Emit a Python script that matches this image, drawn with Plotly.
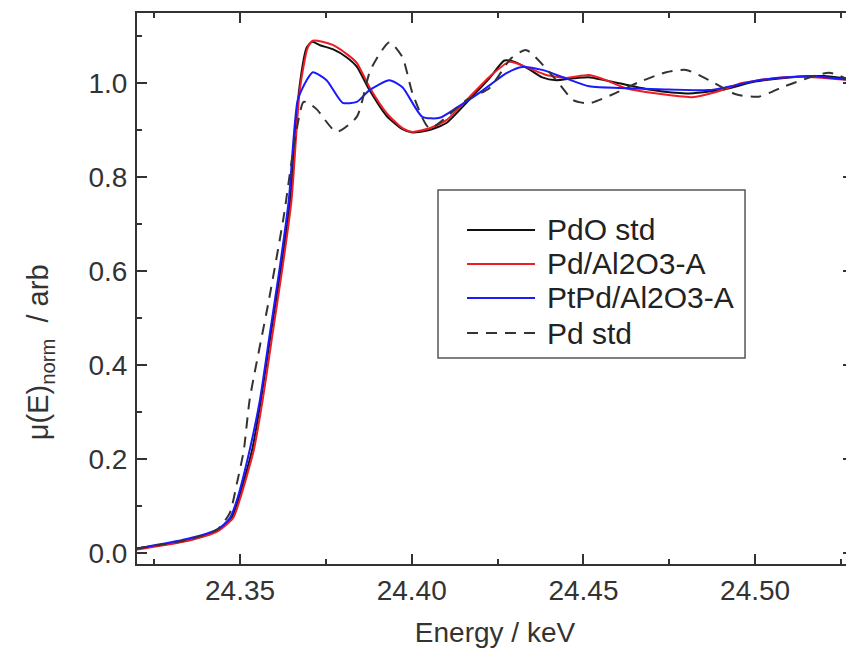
import plotly.graph_objects as go

# ---- data ----
pdo_E = [24.3200, 24.3345, 24.3433, 24.3475, 24.3495, 24.3535, 24.3561, 24.3590, 24.3620, 24.3646,
         24.3672, 24.3694, 24.3710, 24.3735, 24.3770, 24.3810, 24.3840, 24.3877, 24.3927, 24.3973,
         24.4002, 24.4052, 24.4101, 24.4168, 24.4226, 24.4270, 24.4300, 24.4340, 24.4380, 24.4421,
         24.4470, 24.4520, 24.4600, 24.4700, 24.4800, 24.4900, 24.5000, 24.5100, 24.5200, 24.5281]
pdo_mu = [0.010, 0.027, 0.048, 0.075, 0.113, 0.219, 0.326, 0.468, 0.609, 0.751,
          0.985, 1.075, 1.088, 1.080, 1.072, 1.055, 1.035, 0.985, 0.930, 0.902,
          0.895, 0.900, 0.915, 0.965, 1.010, 1.048, 1.045, 1.030, 1.012, 1.006,
          1.010, 1.012, 1.000, 0.985, 0.978, 0.985, 1.003, 1.012, 1.015, 1.008]

pdA_E = [24.3200, 24.3345, 24.3433, 24.3480, 24.3499, 24.3540, 24.3566, 24.3595, 24.3624, 24.3650,
         24.3674, 24.3697, 24.3712, 24.3740, 24.3770, 24.3810, 24.3840, 24.3877, 24.3927, 24.3973,
         24.4002, 24.4052, 24.4101, 24.4168, 24.4226, 24.4284, 24.4334, 24.4392, 24.4450, 24.4517,
         24.4570, 24.4624, 24.4720, 24.4816, 24.4886, 24.4962, 24.5060, 24.5156, 24.5281]
pdA_mu = [0.008, 0.026, 0.046, 0.075, 0.113, 0.219, 0.326, 0.468, 0.609, 0.751,
          0.985, 1.075, 1.090, 1.088, 1.081, 1.062, 1.043, 0.991, 0.936, 0.904,
          0.896, 0.904, 0.921, 0.970, 1.013, 1.045, 1.034, 1.017, 1.011, 1.017,
          1.005, 0.989, 0.977, 0.970, 0.981, 1.000, 1.011, 1.013, 1.006]

ptpd_E = [24.3200, 24.3345, 24.3433, 24.3470, 24.3491, 24.3528, 24.3558, 24.3587, 24.3616, 24.3642,
          24.3668, 24.3694, 24.3712, 24.3752, 24.3799, 24.3840, 24.3877, 24.3935, 24.3973, 24.4031,
          24.4081, 24.4130, 24.4197, 24.4276, 24.4322, 24.4380, 24.4438, 24.4517, 24.4624, 24.4720,
          24.4866, 24.4915, 24.5011, 24.5156, 24.5281]
ptpd_mu = [0.010, 0.030, 0.050, 0.074, 0.113, 0.219, 0.326, 0.468, 0.609, 0.751,
           0.964, 1.006, 1.023, 1.006, 0.958, 0.960, 0.985, 1.006, 0.991, 0.928,
           0.926, 0.947, 0.979, 1.021, 1.034, 1.028, 1.013, 0.993, 0.989, 0.987,
           0.985, 0.991, 1.006, 1.015, 1.006]

pd_E = [24.3200, 24.3345, 24.3433, 24.3470, 24.3491, 24.3511, 24.3528, 24.3584, 24.3627, 24.3660,
        24.3685, 24.3705, 24.3725, 24.3781, 24.3840, 24.3880, 24.3935, 24.3973, 24.4002, 24.4052,
        24.4159, 24.4226, 24.4290, 24.4334, 24.4421, 24.4470, 24.4517, 24.4595, 24.4662, 24.4741,
        24.4799, 24.4866, 24.4944, 24.5011, 24.5085, 24.5215, 24.5281]
pd_mu = [0.010, 0.028, 0.050, 0.085, 0.149, 0.219, 0.326, 0.538, 0.715, 0.880,
         0.960, 0.955, 0.943, 0.896, 0.928, 1.028, 1.087, 1.055, 0.979, 0.904,
         0.964, 0.989, 1.053, 1.070, 1.006, 0.964, 0.957, 0.979, 1.002, 1.023,
         1.028, 1.006, 0.976, 0.971, 0.993, 1.022, 1.004]

series_names = ["PdO std", "Pd/Al2O3-A", "PtPd/Al2O3-A", "Pd std"]
x_ticks = [24.35, 24.40, 24.45, 24.50]
y_ticks = [0.0, 0.2, 0.4, 0.6, 0.8, 1.0]

FONT = "Liberation Sans, Arial, sans-serif"
AX = "#333333"
styles = [
    dict(color="#111111", width=2),
    dict(color="#ee1c24", width=2),
    dict(color="#1a1aff", width=2),
    dict(color="#333333", width=2, dash="11px,8px"),
]
data = [(pdo_E, pdo_mu), (pdA_E, pdA_mu), (ptpd_E, ptpd_mu), (pd_E, pd_mu)]

fig = go.Figure()
for (xs, ys), name, st in zip(data, series_names, styles):
    fig.add_trace(go.Scatter(x=xs, y=ys, mode="lines", name=name, showlegend=False,
                             line=dict(shape="spline", smoothing=0.6, **st)))

# legend drawn in paper coordinates (box, line samples, labels)
shapes = [dict(type="rect", xref="paper", yref="paper", x0=0.4204, x1=0.8492, y0=0.374, y1=0.6788,
               line=dict(color="#555555", width=1.5), fillcolor="white", layer="above")]
annotations = []
entry_y = [0.6062, 0.5445, 0.4828, 0.4192]
for name, st, yy in zip(series_names, styles, entry_y):
    shapes.append(dict(type="line", xref="paper", yref="paper", x0=0.4609, x1=0.5559, y0=yy, y1=yy,
                       line=st, layer="above"))
    annotations.append(dict(xref="paper", yref="paper", x=0.5698, y=yy, xanchor="left", yanchor="middle",
                            text=name, showarrow=False,
                            font=dict(family=FONT, size=30, color="#222222")))

# y-axis title (placed lower than the plot centre, as in the reference)
annotations.append(dict(xref="paper", yref="paper", x=-0.135, y=0.385, xanchor="center", yanchor="middle",
                        textangle=-90, showarrow=False,
                        text="\u03bc(E)<sub>norm</sub>\u00a0\u00a0/\u00a0arb",
                        font=dict(family=FONT, size=29, color=AX)))

axis_common = dict(
    showline=True, linecolor=AX, linewidth=2, mirror="ticks",
    ticks="inside", ticklen=10, tickwidth=2, tickcolor=AX,
    showgrid=False, zeroline=False, automargin=False,
    tickfont=dict(family=FONT, size=28, color=AX),
)

# the page body adds an 8px offset, so the figure is sized to fill the rest of the window
fig.update_layout(
    width=846, height=645,
    margin=dict(l=129, r=1, t=5, b=89),
    paper_bgcolor="white", plot_bgcolor="white",
    font=dict(family=FONT, size=28, color=AX),
    xaxis=dict(
        range=[24.32, 24.5285], tickvals=x_ticks, tickformat=".2f",
        minor=dict(ticks="inside", ticklen=5, tickwidth=2, tickcolor=AX, dtick=0.025, tick0=24.325),
        title=dict(text="Energy / keV", font=dict(family=FONT, size=28, color=AX), standoff=18),
        ticklabelstandoff=0,
        **axis_common,
    ),
    yaxis=dict(
        range=[-0.023, 1.149], tickvals=y_ticks, tickformat=".1f",
        minor=dict(ticks="inside", ticklen=5, tickwidth=2, tickcolor=AX, dtick=0.1, tick0=0.1),
        ticklabelstandoff=2,
        **axis_common,
    ),
    shapes=shapes,
    annotations=annotations,
    showlegend=False,
)

fig.write_html("out.html")
